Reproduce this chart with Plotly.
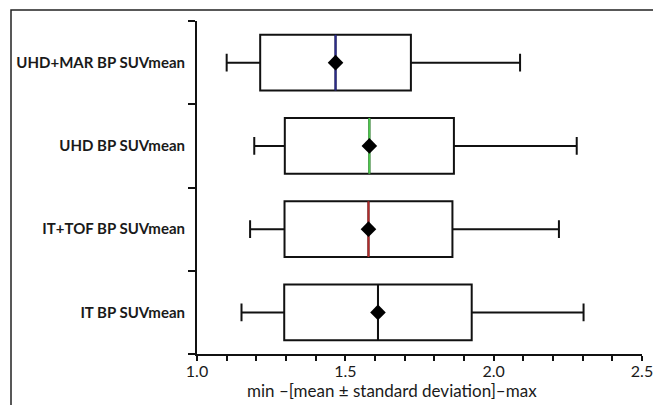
import plotly.graph_objects as go

# ---- data ----
categories = ["IT BP SUVmean", "IT+TOF BP SUVmean", "UHD BP SUVmean", "UHD+MAR BP SUVmean"]
mins = [1.150, 1.179, 1.193, 1.100]
means = [1.610, 1.578, 1.581, 1.467]
sds = [0.316, 0.283, 0.285, 0.254]
maxs = [2.303, 2.220, 2.280, 2.089]
line_colors = ["#111111", "#b22a2a", "#4cc94c", "#2b2b8c"]

x_ticks = [1.0, 1.5, 2.0, 2.5]
x_title = "min \u2013[mean \u00b1 standard deviation]\u2013max"

BOX_W = 0.67
FONT = "Lato"

fig = go.Figure()
positions = list(range(len(categories)))

for pos, mn, m, sd, mx in zip(positions, mins, means, sds, maxs):
    fig.add_trace(go.Box(
        orientation="h",
        y=[pos],
        q1=[m - sd], median=[m], q3=[m + sd],
        lowerfence=[mn], upperfence=[mx],
        width=BOX_W, whiskerwidth=0.32,
        line=dict(color="#111111", width=2),
        fillcolor="white",
        boxpoints=False,
        showlegend=False,
        hoverinfo="skip",
    ))

for pos, m, c in zip(positions, means, line_colors):
    fig.add_trace(go.Scatter(
        x=[m, m], y=[pos - BOX_W / 2, pos + BOX_W / 2],
        mode="lines", line=dict(color=c, width=2),
        showlegend=False, hoverinfo="skip",
    ))

fig.add_trace(go.Scatter(
    x=means, y=positions, mode="markers",
    marker=dict(symbol="diamond", size=12, color="#000000"),
    showlegend=False, hoverinfo="skip",
))

fig.update_layout(
    width=653, height=405,
    margin=dict(l=197, r=11, t=21, b=51, autoexpand=False),
    paper_bgcolor="white", plot_bgcolor="white",
    font=dict(family=FONT, color="#1a1a1a"),
    shapes=[dict(
        type="rect", xref="paper", yref="paper",
        x0=(11 - 197) / 445, x1=1.2, y0=-0.3, y1=1 + 11 / 333,
        line=dict(color="#222222", width=1.5), fillcolor="rgba(0,0,0,0)",
        layer="below",
    )],
    annotations=[dict(
        text=x_title, xref="paper", yref="paper",
        x=(392 - 197) / 445, y=-(390 - 354) / 333,
        xanchor="center", yanchor="middle", showarrow=False,
        font=dict(size=17, family=FONT, color="#1a1a1a"),
    )],
)

fig.update_xaxes(
    range=[1.0, 2.5], automargin=False, ticklabeloverflow="allow",
    tickvals=x_ticks, ticktext=[f"{v:.1f}" for v in x_ticks],
    ticks="outside", ticklen=5, tickwidth=1.5, tickcolor="#111111",
    ticklabelstandoff=-3,
    minor=dict(dtick=0.1, tick0=1.0, ticks="outside", ticklen=5, tickwidth=1.5,
               tickcolor="#111111", showgrid=False),
    showline=True, linecolor="#111111", linewidth=2,
    showgrid=False, zeroline=False,
    tickfont=dict(size=16, family=FONT, color="#1a1a1a"),
)

fig.update_yaxes(
    range=[-0.5, len(categories) - 0.5], automargin=False,
    tickmode="array", tickvals=positions, ticktext=[f"<b>{c}</b>" for c in categories],
    ticks="outside", ticklen=7, tickcolor="rgba(0,0,0,0)",
    minor=dict(tickmode="array", tickvals=[p - 0.5 for p in positions] + [positions[-1] + 0.5],
               ticks="outside", ticklen=7, tickwidth=2, tickcolor="#111111", showgrid=False),
    showline=True, linecolor="#111111", linewidth=2,
    showgrid=False, zeroline=False,
    tickfont=dict(size=15, family=FONT, color="#1a1a1a"),
)

fig.write_html("out.html")
